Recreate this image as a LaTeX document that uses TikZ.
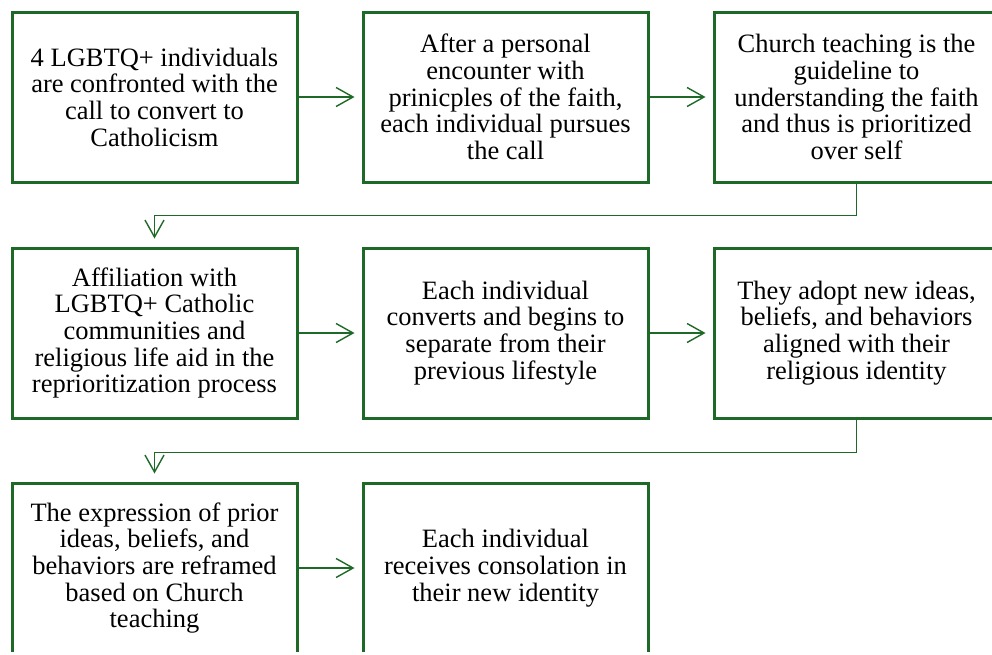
\documentclass[tikz,border=0pt]{standalone}
\usepackage{fontspec}
\setmainfont{Liberation Serif}
\usetikzlibrary{arrows.meta}
\definecolor{boxgreen}{RGB}{30,105,40}
\tikzset{
  stepbox/.style={draw=boxgreen, line width=3pt, minimum width=285pt, minimum height=170pt,
    inner sep=0pt, align=center, text=black,
    font=\fontsize{26.5}{26.7}\selectfont},
  link/.style={draw=boxgreen, line width=1.4pt,
    -{Straight Barb[length=17pt,width=19pt]}},
}
\begin{document}
\begin{tikzpicture}[x=1pt,y=-1pt]
\useasboundingbox (0,0) rectangle (992,654);
\clip (0,0) rectangle (992,651);
\node[stepbox] (b1) at (154.5,97) {4 LGBTQ+ individuals\\are confronted with the\\call to convert to\\Catholicism};
\node[stepbox] (b2) at (505.5,97) {After a personal\\encounter with\\prinicples of the faith,\\each individual pursues\\the call};
\node[stepbox] (b3) at (856.5,97) {Church teaching is the\\guideline to\\understanding the faith\\and thus is prioritized\\over self};
\node[stepbox] (b4) at (154.5,333) {Affiliation with\\LGBTQ+ Catholic\\communities and\\religious life aid in the\\reprioritization process};
\node[stepbox] (b5) at (505.5,333) {Each individual\\converts and begins to\\separate from their\\previous lifestyle};
\node[stepbox] (b6) at (856.5,333) {They adopt new ideas,\\beliefs, and behaviors\\aligned with their\\religious identity};
\node[stepbox] (b7) at (154.5,568) {The expression of prior\\ideas, beliefs, and\\behaviors are reframed\\based on Church\\teaching};
\node[stepbox] (b8) at (505.5,568) {Each individual\\receives consolation in\\their new identity};
\draw[link, shorten >=7pt] (b1.east) -- (b2.west);
\draw[link, shorten >=7pt] (b2.east) -- (b3.west);
\draw[link, shorten >=7pt] (b4.east) -- (b5.west);
\draw[link, shorten >=7pt] (b5.east) -- (b6.west);
\draw[link, shorten >=7pt] (b7.east) -- (b8.west);
\draw[link, shorten >=8pt] (b3.south) -- ++(0,32) -| (b4.north);
\draw[link, shorten >=8pt] (b6.south) -- ++(0,33) -| (b7.north);
\end{tikzpicture}
\end{document}
